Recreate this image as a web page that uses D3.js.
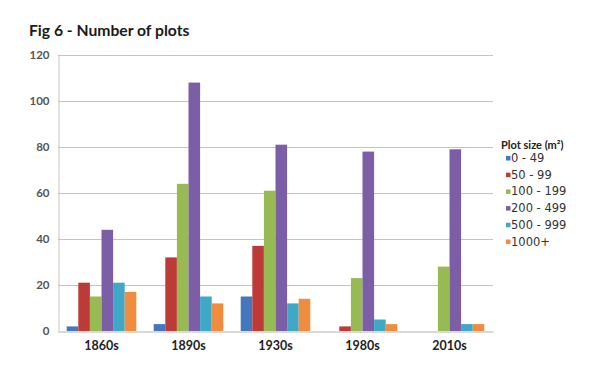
<!DOCTYPE html>
<html>
<head>
<meta charset="utf-8">
<script src="https://cdn.jsdelivr.net/npm/d3@7"></script>
<style>
  html, body { margin: 0; padding: 0; background: #fff; }
  svg { display: block; }
</style>
</head>
<body>
<svg id="chart" width="604" height="369"></svg>
<script>
const categories = ["1860s", "1890s", "1930s", "1980s", "2010s"];
const seriesNames = ["0 - 49", "50 - 99", "100 - 199", "200 - 499", "500 - 999", "1000+"];
const s0_49     = [2, 3, 15, 0, 0];
const s50_99    = [21, 32, 37, 2, 0];
const s100_199  = [15, 64, 61, 23, 28];
const s200_499  = [44, 108, 81, 78, 79];
const s500_999  = [21, 15, 12, 5, 3];
const s1000plus = [17, 12, 14, 3, 3];
const yTicks = [0, 20, 40, 60, 80, 100, 120];
const colors = ["#4577BE", "#BC3B37", "#98BA52", "#7C5EA6", "#3FA8C7", "#F08C3E"];

const seriesValues = [s0_49, s50_99, s100_199, s200_499, s500_999, s1000plus];

const svg = d3.select("#chart");
const mLeft = 58, mRight = 493, mTop = 55, mBottom = 331;

const x0 = d3.scaleBand().domain(categories).range([mLeft, mRight]).paddingInner(0.2).paddingOuter(0.1);
const x1 = d3.scaleBand().domain(seriesNames).range([0, x0.bandwidth()]);
const y = d3.scaleLinear().domain([0, 120]).range([mBottom, mTop]);
const color = d3.scaleOrdinal().domain(seriesNames).range(colors);

// title
svg.append("text")
  .attr("x", 29).attr("y", 36)
  .attr("font-family", "Lato, 'Open Sans', sans-serif")
  .attr("font-weight", "bold")
  .attr("font-size", 15.7)
  .attr("fill", "#1a1a1a")
  .text("Fig 6 - Number of plots");

// gridlines
svg.append("g").selectAll("line")
  .data(yTicks.filter(d => d > 0))
  .join("line")
  .attr("x1", mLeft).attr("x2", mRight)
  .attr("y1", d => Math.round(y(d)) + 0.5).attr("y2", d => Math.round(y(d)) + 0.5)
  .attr("stroke", "#cbc1bb").attr("stroke-width", 1);

// y axis
const yAxis = d3.axisLeft(y).tickValues(yTicks).tickSize(0).tickPadding(9);
const gy = svg.append("g").attr("transform", `translate(${mLeft + 0.5},0)`).call(yAxis);
gy.select(".domain").attr("stroke", "#c9c2be");
gy.selectAll("text")
  .attr("font-family", "Lato, 'Open Sans', sans-serif")
  .attr("font-size", 11.5)
  .attr("font-weight", "bold")
  .attr("fill", "#555");

// bars
const groups = svg.append("g").selectAll("g")
  .data(categories)
  .join("g")
  .attr("transform", d => `translate(${x0(d)},0)`);

groups.selectAll("rect")
  .data((c, i) => seriesNames.map((s, j) => ({ series: s, value: seriesValues[j][i] })))
  .join("rect")
  .attr("x", d => x1(d.series))
  .attr("width", x1.bandwidth())
  .attr("y", d => y(d.value))
  .attr("height", d => y(0) - y(d.value))
  .attr("fill", d => color(d.series));

// x axis baseline
const xAxis = d3.axisBottom(x0).tickSize(0).tickPadding(10);
const gx = svg.append("g").attr("transform", `translate(0,${mBottom + 0.5})`).call(xAxis);
gx.select(".domain").attr("stroke", "#b9b1ac");
gx.selectAll("text")
  .attr("font-family", "Lato, 'Open Sans', sans-serif")
  .attr("font-size", 12.5)
  .attr("font-weight", "bold")
  .attr("fill", "#222");

// legend
const lg = svg.append("g").attr("transform", "translate(501,0)");
lg.append("text")
  .attr("x", 0).attr("y", 149)
  .attr("font-family", "Lato, 'Open Sans', sans-serif")
  .attr("font-weight", "bold")
  .attr("font-size", 11)
  .attr("fill", "#222")
  .text("Plot size (m²)");
const items = lg.selectAll("g.item")
  .data(seriesNames)
  .join("g")
  .attr("class", "item")
  .attr("transform", (d, i) => `translate(0,${162 + i * 16.7})`);
items.append("rect")
  .attr("x", 5).attr("y", -6).attr("width", 4.5).attr("height", 4.5)
  .attr("fill", d => color(d));
items.append("text")
  .attr("x", 10).attr("y", 0)
  .attr("font-family", "'DejaVu Sans', sans-serif")
  .attr("font-size", 11.5)
  .attr("fill", "#333")
  .text(d => d);
</script>
</body>
</html>
